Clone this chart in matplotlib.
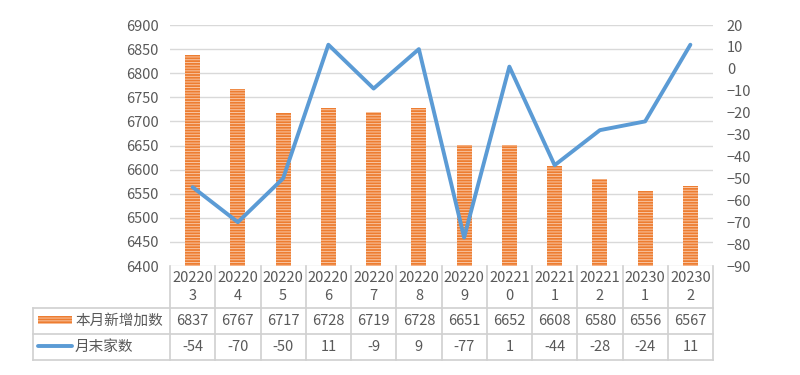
import matplotlib.pyplot as plt
import numpy as np

plt.rcParams['font.family'] = ['Noto Sans CJK SC', 'DejaVu Sans']
plt.rcParams['hatch.linewidth'] = 0.7

months = ['20220\n3', '20220\n4', '20220\n5', '20220\n6', '20220\n7', '20220\n8',
          '20220\n9', '20221\n0', '20221\n1', '20221\n2', '20230\n1', '20230\n2']
new_added = [6837, 6767, 6717, 6728, 6719, 6728, 6651, 6652, 6608, 6580, 6556, 6567]
month_end = [-54, -70, -50, 11, -9, 9, -77, 1, -44, -28, -24, 11]
bar_name = '本月新增加数'
line_name = '月末家数'

orange = '#ED7D31'
stripe = '#F9C6A3'
blue = '#5B9BD5'
grey = '#D9D9D9'
txt = '#595959'

W, H = 800, 375
fig = plt.figure(figsize=(8, 3.75), dpi=100)
x0, x1, ytop, ybot = 170, 713, 25, 266
ax = fig.add_axes([x0 / W, 1 - ybot / H, (x1 - x0) / W, (ybot - ytop) / H])
n = len(months)
x = np.arange(n)

ax.bar(x, new_added, width=0.33, color=orange, edgecolor=stripe, linewidth=0,
       hatch='------', zorder=2)
ax.set_xlim(-0.5, n - 0.5)
ax.set_ylim(6400, 6900)
ax.set_yticks(np.arange(6400, 6901, 50))
ax.yaxis.grid(True, color=grey, linewidth=1, zorder=0)
ax.set_xticks([])
for s in ax.spines.values():
    s.set_visible(False)
ax.tick_params(axis='y', length=0, labelsize=10.5, labelcolor=txt, pad=8)

ax2 = ax.twinx()
ax2.plot(x, month_end, color=blue, linewidth=2.8, solid_capstyle='round', zorder=3)
ax2.set_ylim(-90, 20)
ax2.set_yticks(np.arange(-90, 21, 10))
for s in ax2.spines.values():
    s.set_visible(False)
ax2.tick_params(axis='y', length=0, labelsize=10.5, labelcolor=txt, pad=10)

# data table below the plot
tx0 = 33
tab = fig.add_axes([0, 0, 1, 1])
tab.set_xlim(0, W)
tab.set_ylim(H, 0)
tab.axis('off')
cw = (x1 - x0) / n
rows = [ybot, 308, 334, 360]
lc = '#D0D0D0'
for k in range(n + 1):
    xx = x0 + k * cw
    tab.plot([xx, xx], [ybot, rows[3]], color=lc, lw=1.2)
tab.plot([tx0, tx0], [rows[1], rows[3]], color=lc, lw=1.2)
for r in rows[1:]:
    tab.plot([tx0, x1], [r, r], color=lc, lw=1.2)

for k in range(n):
    cx = x0 + (k + 0.5) * cw
    tab.text(cx, (rows[0] + rows[1]) / 2, months[k], ha='center', va='center',
             fontsize=10.5, color=txt, linespacing=1.3)
    tab.text(cx, (rows[1] + rows[2]) / 2, str(new_added[k]), ha='center', va='center',
             fontsize=10.5, color=txt)
    tab.text(cx, (rows[2] + rows[3]) / 2, str(month_end[k]), ha='center', va='center',
             fontsize=10.5, color=txt)

# legend keys in the table
tab.add_patch(plt.Rectangle((38, 316), 34, 8, facecolor=orange, edgecolor=stripe,
                            linewidth=0, hatch='------'))
tab.plot([38, 72], [346, 346], color=blue, lw=2.8, solid_capstyle='round')
tab.text(75, (rows[1] + rows[2]) / 2, bar_name, ha='left', va='center', fontsize=10.5, color=txt)
tab.text(75, (rows[2] + rows[3]) / 2, line_name, ha='left', va='center', fontsize=10.5, color=txt)

fig.savefig('out.png', dpi=100)
